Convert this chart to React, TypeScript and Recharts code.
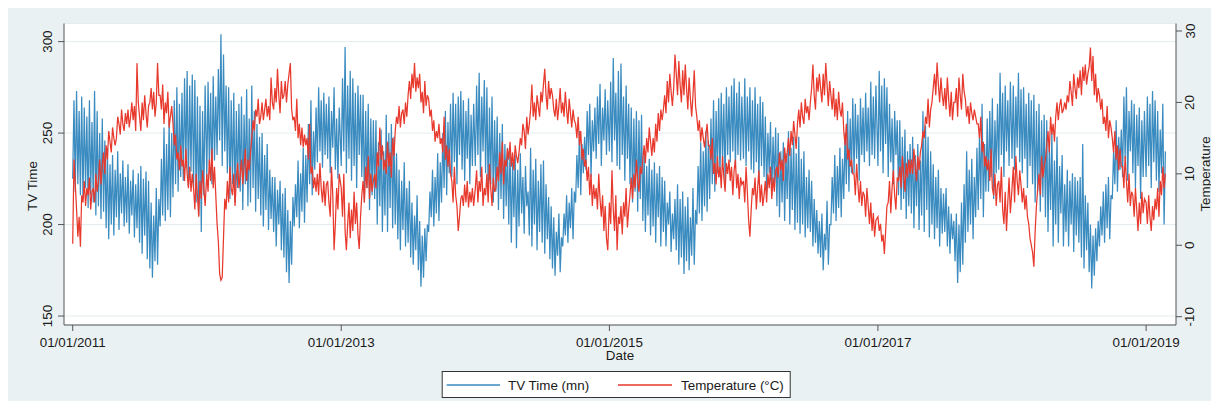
import React from 'react';
import { ComposedChart, Line, XAxis, YAxis, CartesianGrid } from 'recharts';

// Samples: two per week (weekday low / weekend high for TV), from Jan 1 of each year
const years = [2011, 2012, 2013, 2014, 2015, 2016, 2017, 2018, 2019];
const sampleStepDays = 3.5;

const tv2011 = [225,268,218,273,222,262,216,270, 214,264,220,259,209,268,216,256, 212,273,205,262,210,250,203,258,207,246, 198,242,192,233,200,238,194,230, 204,240,197,228,206,235,199,226, 201,233,195,224,205,230,193,222,198,228, 190,232,184,225,194,229,181,224, 176,212,171,205,180,220,178,214, 199,236,205,253,202,244,208,257,204,250, 215,268,222,275,218,266,226,272, 224,280,231,284,221,276,229,282, 220,279,212,270,205,265,196,262,216,276];
const tv2012 = [226,278,232,272,222,281,235,270, 238,285,246,304,232,293,240,276, 228,275,214,268,222,272,212,262,220,266, 218,270,208,260,222,274,210,258, 212,276,220,262,207,255,214,248, 205,250,199,238,208,244,197,230,203,226, 196,226,188,219,200,224,186,217, 182,220,174,208,168,202,178,215, 199,222,204,235,198,228,207,242,201,238, 212,255,222,268,216,251,230,264, 234,275,240,268,231,272,238,266, 236,270,228,262,242,275,230,258,225,264];
const tv2013 = [232,280,240,297,228,276,236,284, 224,280,232,272,220,276,238,271, 226,271,212,262,220,266,208,258,216,257, 214,257,200,245,210,252,196,240, 205,260,196,250,209,255,198,248, 200,239,192,230,186,224,197,234,188,220, 190,224,182,212,178,205,186,216, 175,202,166,194,171,198,180,200, 196,218,204,230,199,226,206,239,202,234, 212,250,220,262,216,256,228,266, 226,272,234,266,222,270,238,273, 230,268,224,262,236,269,222,260,232,266];
const tv2014 = [232,276,238,283,226,270,240,279, 228,275,216,264,222,270,212,257, 218,259,208,250,214,255,203,244,210,242, 200,242,190,234,204,238,187,230, 199,239,206,226,195,232,210,218, 194,242,188,230,200,236,186,224,196,233, 190,235,184,222,192,215,181,210, 176,204,172,196,183,206,174,193, 188,206,194,216,190,212,198,220,192,218, 212,238,220,251,216,244,228,248, 230,262,238,266,226,257,240,264, 236,270,244,277,232,264,246,274,238,268];
const tv2015 = [240,278,234,291,246,272,232,284, 230,288,238,270,224,276,236,266, 222,264,212,258,218,262,207,257,214,260, 202,239,196,232,205,236,194,230, 199,234,190,228,204,232,188,226, 196,224,188,212,200,218,185,206,192,214, 186,222,178,214,182,218,173,210, 180,215,175,204,183,220,178,208, 200,232,206,245,202,240,210,251,207,246, 214,258,222,268,218,262,228,269, 226,272,234,266,222,275,238,270, 234,276,240,280,231,272,238,278,235,270];
const tv2016 = [236,280,232,270,240,275,230,268, 228,275,234,266,222,270,232,267, 226,259,218,250,228,256,216,248,222,253, 210,250,204,240,212,245,202,239, 214,251,200,242,208,248,197,239, 201,248,195,236,200,240,193,226,198,230, 196,224,188,214,190,208,184,202, 182,206,175,195,186,213,178,200, 200,226,206,238,202,232,209,242,204,236, 214,250,222,262,218,258,228,269, 228,266,236,260,224,269,238,264, 234,272,240,264,232,278,238,270,236,276];
const tv2017 = [232,284,240,276,228,280,244,275, 226,266,234,258,222,262,238,257, 216,257,208,248,214,252,203,240,210,244, 206,248,198,238,210,244,197,235, 205,262,196,254,208,248,193,240, 200,233,192,226,198,230,188,220,195,217, 196,220,188,210,184,206,192,202, 180,206,168,200,174,212,178,222, 190,240,196,230,200,236,192,226,204,242, 208,250,214,266,204,244,218,258, 218,262,226,269,214,257,228,266, 230,283,238,272,226,276,240,268,232,278];
const tv2018 = [236,276,230,270,242,283,234,274, 228,275,236,266,220,272,232,268, 222,271,212,262,218,266,207,257,215,260, 204,257,196,244,208,250,188,235, 200,248,190,232,206,238,188,222, 196,230,188,224,200,228,185,226,194,224, 190,226,182,244,176,216,186,212, 174,200,165,194,172,198,180,202, 188,210,194,218,190,222,198,226,192,216, 214,240,222,257,218,248,230,252, 226,270,236,275,224,262,240,268, 228,266,220,260,232,264,214,257,226,262];
const tv2019 = [226,270,232,266,220,273,234,268, 224,262,218,252,228,266,200,240];

const temp2011 = [0.2,12,8.5,5,1.2,4,-0.2,7, 6,9,5.5,8,7,9.5,5,7.5, 8,6,10,7.5,9,12,8.5,11,13,10, 14,12,16,14.5,13,16.5,15,14, 15,18,17,15.5,19,17,16,18.5, 17,19,16.5,18,20,17.5,19.5,16,25.5,20, 18,16,20,17.5,21,18.5,16.5,19.5, 20,22,19,21.5,18,20,25.5,21, 21,19,22.5,17,20,18.5,21.5,16.5,18,19.5, 17,14,15.5,12,13,10.5,14,11, 12,9,13.5,10,8,11,7.5,10, 8,5,10,7,4,9,6.5,10.5,8,5.5];
const temp2012 = [10,7.5,12,9,13.5,8,11,7, 3,0.5,-4,-4.9,-4.5,1,6.5,5, 9,6,11,8,7,10,5.5,9.5,11.5,8, 10,12,8.5,11,13.5,9,12,10.5, 13,15,17.5,16,19,18,20.5,17, 18,20,17.5,19,20.5,18,19.5,17.5,23.5,20, 19,22,20,24.7,21,18.5,23,20.5, 21,23,20,22.5,24,25.5,19,17.5, 18,16,20.5,15,17,14,16.5,13.7,15.5,14, 15,12,17,10,11,8,9.5,7.5, 10,7,11.5,8,6,9,5.5,8.5, 9,6,4,11,7,-0.7,3,8,5,10];
const temp2013 = [8,4,10,2,-0.7,3,6,1, 5,2,7.5,3,6,1.5,-0.5,4, 7,9,6,11,8,12.5,6.5,10,7.5,9, 10,8,13,11,16.5,12,14,10.5, 12,10,14.5,11,13,9.5,15,12.5, 16,18,17,19.5,16.5,18.5,19,17,20,18, 21,23,20.5,24,22,25.5,21.5,23.5, 22,24,20,21.5,18.5,23,19.5,21, 20.5,18,19,16,17.5,14.5,16,15,17,14.2, 15,13,18,12,14,11,13.5,10, 9,6,11,7,5.5,2,4,6.5, 7,5.5,8.5,6,9,5.3,7.5,6,8,5.5];
const temp2014 = [8,10.5,6,9,7.5,11,5.5,8, 7,10,6,11.4,8,5.5,9.5,7.5, 8,11,9,13,10,14.5,8.5,12,11,13.5, 12,14.5,11,13,10.5,14,12.5,11.5, 13,15,14,17,16,13.5,18,15.5, 17,19,22.5,18,20,17.5,21,19.5,18,21.5, 20,22.5,24.7,21,19,23,20.5,22, 21,19,18,20.5,17.5,19.5,22,18.5, 20,18,21.5,19,17,20.5,18.5,16.5,19,17.5, 17,15,18,14,16,12,13.5,11, 12,9,11,7,10,5.5,8.5,6.5, 8,5,10,6.5,4,7,2,5.5,1,-0.7];
const temp2015 = [6,3,10.5,5,2,7,-0.7,4, 3,5.5,1.5,6,4,8,2.5,5, 7,9.5,6.5,10,8,12,9,7.5,11,10, 12,14,11.5,15,13,16.5,14.5,12.5, 15,13,17,14.5,18.5,16,19,17.5, 19,21,18.5,23,20,24,21.5,19.5,22,26.7, 24,21,25.8,22.5,20,24.5,21,25.3, 22,19,23.5,20.5,18,21,24.5,19.5, 18,16,17.5,14.5,16.5,15,13.7,15.5,17,14, 14,12,15,10,11.5,8.5,12.5,9.5, 11,8,12.5,9.5,7.5,11.5,10,12, 9,11,7,10.5,12,8,10,6.5,9.5,8.5];
const temp2016 = [9,6,11,7.5,3.5,1.2,5,8, 7,9.5,5,8,10.5,6,8.5,5.5, 7,9,6,10,8,11,6.5,9.5,7.5,10.5, 11,9.5,13,10.5,12,9,13.7,11.5, 13,15,12.5,16,14,17.4,15.5,13.5, 17,19,16.5,20,18,17,20.5,18.5,19.5,17.5, 20,22,25.3,21,19,23.5,21.5,24, 22,20,24,21,25.5,22.5,19.5,23, 21,19,22,18,20.5,17.5,21.5,19,18,20, 16,14,17,12,13.5,11,12,10, 10,7,11.4,8.5,6,9,5.5,7.5, 7,4,8,5.5,3,6,2,4.5,1.2,3.5];
const temp2017 = [4,2,3,0.5,1.5,-1.2,2,5.5, 6,9,4.5,8,10.5,7,5,9.5, 9,11,8,12.5,10,7.5,11.5,9.5,12,10, 12,10,13.5,11,9,12.5,10.5,13, 14,16,15,18,17,20.5,16.5,19, 20,22,24,21,25.6,22.5,20,23.5,21,19.5, 22,19,23.5,20.5,18,21.5,17.5,20, 20,22,18,23.5,21,19,24,21.5, 20.5,18,19.5,17,20,18.5,17.5,19,18,17, 17,15,18,13,14.5,11,12.5,10.5, 12,9,13.5,8,7,10,5.5,8.5, 9,6,11,5,3,7.5,2,6,9.5,4.5];
const temp2018 = [8,11,6,12.5,9,7,10.5,8.5, 6,8,5,7,4,3,1,0, -1,-3,2,5.5,8,10,7,12.5,9.5,11, 12,14,16,13,18,15.5,17,14.5, 18,20,17.5,19.5,20.5,18.5,19,20, 19,21,20,23,21.5,19.5,24,22,20.5,23.5, 22,24.5,21,25,23,25.3,22.5,24, 25,27.7,23,26.5,21,24,20,22, 21,19,20.5,17,18,16,19.5,15,17.5,16.5, 15,13,16,12,14,10.5,13.5,11, 11,8,12.5,9,6,10,5.5,7.5, 7,4,8,5,2,6,3,7.5,4.5,6.5];
const temp2019 = [6,3,7,4,2,5.5,3.5,6.5, 5,8,4,9,7,11,8,10];

const tvByYear = [tv2011, tv2012, tv2013, tv2014, tv2015, tv2016, tv2017, tv2018, tv2019];
const tempByYear = [temp2011, temp2012, temp2013, temp2014, temp2015, temp2016, temp2017, temp2018, temp2019];

const tickYears = [2011, 2013, 2015, 2017, 2019];
const tickLabels = ['01/01/2011', '01/01/2013', '01/01/2015', '01/01/2017', '01/01/2019'];
const tvTicks = [150, 200, 250, 300];
const tempTicks = [-10, 0, 10, 20, 30];

const DAY = 86400000;
const dayOf = (y: number) => (Date.UTC(y, 0, 1) - Date.UTC(2011, 0, 1)) / DAY;

const data: { day: number; tv: number; temp: number }[] = [];
years.forEach((y, yi) => {
  const tv = tvByYear[yi];
  const tp = tempByYear[yi];
  for (let k = 0; k < tv.length; k++) {
    data.push({ day: dayOf(y) + k * sampleStepDays, tv: tv[k], temp: tp[k] });
  }
});
const tickDays = tickYears.map(dayOf);
const labelFor = (d: number) => tickLabels[tickDays.indexOf(d)] ?? '';

const FONT = '"Liberation Sans", Arial, Helvetica, sans-serif';
const FS = 13.4;
const TXT = '#1a1a1a';
const AXIS = '#555555';
const BLUE = '#3a8bc0';
const RED = '#e8392d';

const RotTick = (props: any) => {
  const { x, y, payload } = props;
  return (
    <text x={x} y={y} transform={`rotate(-90 ${x} ${y})`} textAnchor="middle" dominantBaseline="central"
      fontFamily={FONT} fontSize={FS} fill={TXT}>{payload.value}</text>
  );
};
const XTick = (props: any) => {
  const { x, y, payload } = props;
  return (
    <text x={x} y={y} textAnchor="middle" dominantBaseline="central" fontFamily={FONT} fontSize={FS} fill={TXT}>
      {labelFor(payload.value)}
    </text>
  );
};

const W = 1211;
const H = 401;

export default function App() {
  return (
    <div style={{ position: 'relative', width: W, height: H, marginBottom: -8, background: '#eaf1f3', fontFamily: FONT, overflow: 'hidden' }}>
      <ComposedChart width={W} height={H} data={data} margin={{ top: 15.5, right: 0, bottom: 0, left: 0 }}>
        <CartesianGrid yAxisId="tv" vertical={false} horizontal stroke="#e4ecef" strokeWidth={1} fill="#ffffff" fillOpacity={1} />
        <XAxis dataKey="day" type="number" domain={[-23.7, 3003.4]} allowDataOverflow ticks={tickDays} interval={0}
          height={84} tickSize={6} tickMargin={11} stroke={AXIS} tick={<XTick />} />
        <YAxis yAxisId="tv" domain={[145.1, 309.9]} allowDataOverflow ticks={tvTicks} interval={0} width={56}
          tickSize={6} tickMargin={10} stroke={AXIS} tick={<RotTick />} />
        <YAxis yAxisId="temp" orientation="right" domain={[-11.16, 31.05]} allowDataOverflow ticks={tempTicks} interval={0}
          width={43} tickSize={6} tickMargin={8} stroke={AXIS} tick={<RotTick />} />
        <Line yAxisId="tv" type="linear" dataKey="tv" stroke={BLUE} strokeWidth={1.25} dot={false} activeDot={false} isAnimationActive={false} />
        <Line yAxisId="temp" type="linear" dataKey="temp" stroke={RED} strokeWidth={1.25} dot={false} activeDot={false} isAnimationActive={false} />
      </ComposedChart>
      <svg width={W} height={H} style={{ position: 'absolute', left: 0, top: 0, pointerEvents: 'none' }}>
        <text x={24} y={178} transform="rotate(-90 24 178)" textAnchor="middle" dominantBaseline="central" fontFamily={FONT} fontSize={FS} fill={TXT}>TV Time</text>
        <text x={1197.5} y={166} transform="rotate(-90 1197.5 166)" textAnchor="middle" dominantBaseline="central" fontFamily={FONT} fontSize={FS} fill={TXT}>Temperature</text>
        <text x={612} y={347.5} textAnchor="middle" dominantBaseline="central" fontFamily={FONT} fontSize={FS} fill={TXT}>Date</text>
        <g transform="translate(433.7 363)">
          <rect x={0.5} y={0.5} width={348} height={26} fill="#ffffff" stroke="#333333" strokeWidth={1} />
          <line x1={5} x2={58.3} y1={14} y2={14} stroke={BLUE} strokeWidth={1.3} />
          <text x={66.3} y={14} dominantBaseline="central" fontFamily={FONT} fontSize={FS} fill={TXT}>TV Time (mn)</text>
          <line x1={176.3} x2={230.3} y1={14} y2={14} stroke={RED} strokeWidth={1.3} />
          <text x={239.3} y={14} dominantBaseline="central" fontFamily={FONT} fontSize={FS} fill={TXT}>Temperature (°C)</text>
        </g>
      </svg>
    </div>
  );
}
